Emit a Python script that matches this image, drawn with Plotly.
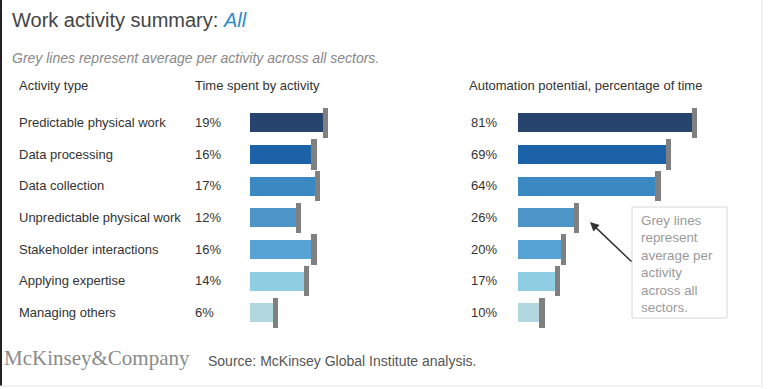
import plotly.graph_objects as go

activities = ["Predictable physical work", "Data processing", "Data collection",
              "Unpredictable physical work", "Stakeholder interactions",
              "Applying expertise", "Managing others"]
time_spent = [19, 16, 17, 12, 16, 14, 6]
time_avg = [19, 16, 17, 12, 16, 14, 6]
automation = [81, 69, 64, 26, 20, 17, 10]
automation_avg = [81, 69, 64, 26, 20, 17, 10]
bar_colors = ["#27446e", "#1b62a8", "#3a89c2", "#4c95c6", "#58a3d5", "#8ecde2", "#b3d7df"]

W, H = 768, 389
FONT = "Liberation Sans, Arial, sans-serif"

fig = go.Figure()
# left panel
fig.add_trace(go.Bar(y=activities, x=time_spent, orientation="h", width=0.6,
                     marker=dict(color=bar_colors, line=dict(width=0)),
                     xaxis="x", yaxis="y", showlegend=False, hoverinfo="skip"))
fig.add_trace(go.Bar(y=activities, x=[1.35] * len(time_avg), base=time_avg, orientation="h",
                     width=0.95, marker=dict(color="#808080", line=dict(width=0)),
                     xaxis="x", yaxis="y", showlegend=False, hoverinfo="skip"))
# right panel
fig.add_trace(go.Bar(y=activities, x=automation, orientation="h", width=0.6,
                     marker=dict(color=bar_colors, line=dict(width=0)),
                     xaxis="x2", yaxis="y2", showlegend=False, hoverinfo="skip"))
fig.add_trace(go.Bar(y=activities, x=[2.4] * len(automation_avg), base=automation_avg,
                     orientation="h", width=0.95, marker=dict(color="#808080", line=dict(width=0)),
                     xaxis="x2", yaxis="y2", showlegend=False, hoverinfo="skip"))

ytop = 1 - 106.67 / H
ybot = 1 - 328.33 / H
ax_common = dict(showgrid=False, zeroline=False, showticklabels=False, showline=False, ticks="")
y_common = dict(ax_common, type="category", range=[6.5, -0.5], domain=[ybot, ytop],
                categoryorder="array", categoryarray=activities)

fig.update_layout(
    width=W, height=H, margin=dict(l=0, r=0, t=0, b=0),
    paper_bgcolor="white", plot_bgcolor="rgba(0,0,0,0)",
    barmode="overlay", bargap=0,
    font=dict(family=FONT, color="#333333"),
    xaxis=dict(ax_common, domain=[250 / W, (250 + 25 * 3.84) / W], range=[0, 25]),
    yaxis=y_common,
    xaxis2=dict(ax_common, domain=[518 / W, (518 + 100 * 2.148) / W], range=[0, 100], anchor="y2"),
    yaxis2=dict(y_common, anchor="x2"),
)

ann = []
def txt(x, y, text, size, color="#333333", yref="paper", family=FONT, **kw):
    ann.append(dict(x=x, y=y, xref="paper", yref=yref, text=text, showarrow=False,
                    xanchor="left", yanchor="middle", align="left",
                    font=dict(size=size, color=color, family=family), **kw))

def py(px):
    return 1 - px / H

txt(10 / W, py(20), "Work activity summary: <i><span style='color:#2b8cc4'>All</span></i>", 20, "#444444")
txt(10 / W, py(58), "<i>Grey lines represent average per activity across all sectors.</i>", 14, "#888888")
txt(17 / W, py(86), "Activity type", 13)
txt(193 / W, py(86), "Time spent by activity", 13)
txt(467 / W, py(86), "Automation potential, percentage of time", 13)

for a, t, v in zip(activities, time_spent, automation):
    txt(17 / W, a, a, 13, yref="y")
    txt(193 / W, a, f"{t}%", 13, yref="y")
    txt(469 / W, a, f"{v}%", 13, yref="y")

# callout box
ann.append(dict(x=639 / W, y=py(211), xref="paper", yref="paper",
                text="Grey lines<br>represent<br>average per<br>activity<br>across all<br>sectors.",
                showarrow=False, xanchor="left", yanchor="top", align="left",
                font=dict(size=13.4, color="#9a9a9a", family=FONT)))
ann.append(dict(x=590 / W, y=py(222), ax=43, ay=41, xref="paper", yref="paper",
                text="", showarrow=True, arrowhead=2,
                arrowsize=1.2, arrowwidth=1.5, arrowcolor="#333333"))

txt(2 / W, py(358), "McKinsey&amp;Company", 21, "#8a8a8a", family="Liberation Serif, Times New Roman, serif")
txt(206 / W, py(361), "Source: McKinsey Global Institute analysis.", 14, "#555555")

fig.update_layout(annotations=ann)

shapes = [
    dict(type="rect", xref="paper", yref="paper", x0=632 / W, x1=727 / W, y0=py(318), y1=py(207),
         line=dict(color="#d8d8d8", width=1), fillcolor="rgba(0,0,0,0)"),
    dict(type="line", xref="paper", yref="paper", x0=1 / W, x1=1 / W, y0=py(386), y1=1,
         line=dict(color="#222222", width=2)),
    dict(type="line", xref="paper", yref="paper", x0=762 / W, x1=762 / W, y0=py(386), y1=1,
         line=dict(color="#e4e4e4", width=1)),
    dict(type="line", xref="paper", yref="paper", x0=0, x1=762 / W, y0=py(386), y1=py(386),
         line=dict(color="#e4e4e4", width=1)),
]
fig.update_layout(shapes=shapes)

fig.write_html("out.html", config={"displayModeBar": False},
               post_script="document.body.style.margin='0';document.body.style.overflow='hidden';")
